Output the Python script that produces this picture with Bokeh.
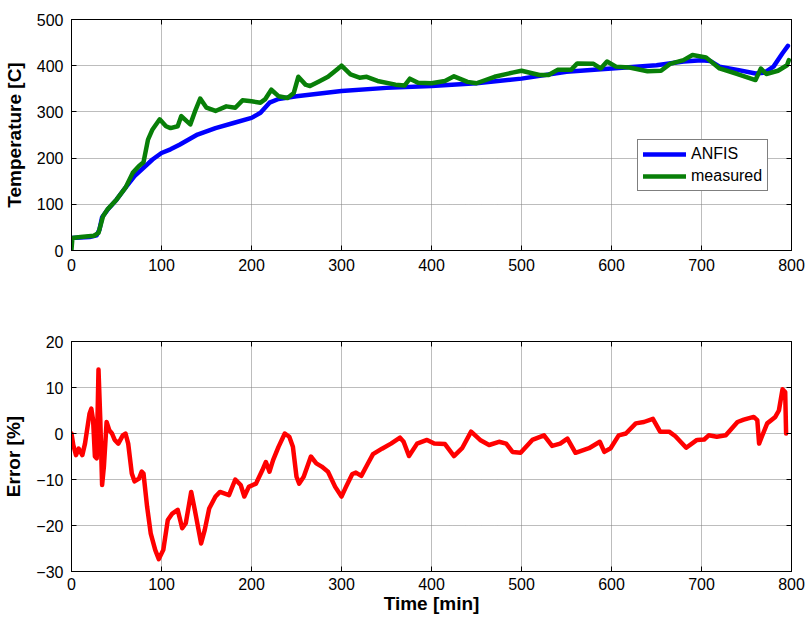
from bokeh.plotting import figure
from bokeh.layouts import column
from bokeh.models import (Range1d, LinearAxis, SingleIntervalTicker, Legend, LegendItem,
                          CustomJSTickFormatter)
from bokeh.embed import file_html
from bokeh.resources import INLINE

# ---------------- data ----------------
t_anfis = [0, 10, 20, 28, 31, 34, 40, 50, 60, 70, 80, 90, 100, 110, 120, 140, 160, 180,
           200, 210, 220, 230, 250, 300, 350, 400, 450, 500, 550, 600, 650, 680, 700,
           710, 720, 740, 760, 770, 780, 790, 796]
anfis = [27, 28, 29, 33, 45, 72, 88, 110, 136, 161, 179, 197, 211, 219, 229, 251, 265, 276,
         287, 298, 320, 328, 334, 345, 352, 356, 362, 372, 387, 394, 401, 409, 412,
         410, 398, 391, 383, 385, 398, 427, 443]

t_meas = [0, 1, 10, 25, 30, 35, 40, 50, 60, 68, 75, 80, 85, 90, 98, 105, 110, 118, 122,
          128, 132, 138, 143, 150, 160, 172, 182, 190, 200, 210, 215, 222, 230, 240, 247,
          252, 260, 265, 275, 285, 295, 300, 310, 320, 328, 340, 360, 370, 376, 385, 400,
          415, 425, 440, 450, 470, 490, 500, 520, 530, 540, 555, 562, 580, 588, 595, 605,
          620, 640, 655, 665, 680, 690, 705, 720, 740, 760, 766, 772, 785, 795, 797]
measured = [2, 27, 29, 32, 38, 74, 89, 110, 136, 168, 183, 191, 240, 262, 284, 269, 265, 269, 291,
            280, 273, 305, 329, 309, 302, 312, 309, 325, 323, 320, 327, 348, 334, 330, 341,
            376, 359, 356, 366, 376, 392, 400, 381, 374, 376, 367, 359, 357, 372, 363, 362,
            367, 377, 365, 362, 376, 385, 389, 380, 380, 391, 391, 405, 404, 394, 409, 398,
            396, 388, 389, 404, 412, 423, 418, 394, 382, 369, 394, 382, 389, 401, 412]

t_err = [0, 2, 5, 8, 12, 15, 20, 22, 24, 26, 28, 30, 32, 34, 36, 39, 42, 45, 48, 52, 57, 60,
         63, 67, 70, 75, 78, 80, 84, 88, 93, 97, 102, 107, 112, 118, 123, 127, 133, 137,
         144, 148, 153, 160, 165, 175, 182, 188, 192, 197, 205, 212, 216, 220, 224, 230,
         237, 242, 246, 250, 253, 258, 266, 272, 278, 285, 293, 300, 305, 312, 316, 322,
         328, 335, 345, 355, 365, 369, 375, 384, 395, 403, 415, 425, 434, 444, 454, 464,
         475, 483, 490, 499, 512, 525, 534, 543, 551, 560, 575, 587, 592, 599, 608, 616,
         627, 636, 646, 654, 664, 671, 683, 695, 703, 708, 717, 727, 740, 747, 758, 762,
         764, 767, 773, 782, 786, 790, 793, 794]
error = [0, -2.5, -4.7, -3.3, -4.7, -2.2, 4.3, 5.4, 2.9, -5, -5.4, 13.9, 2.9, -11.2, -7.2,
         2.5, 0.7, 0, -1.4, -2.2, -0.4, 0, -2.2, -8.7, -10.4, -9.8, -8.3, -8.7, -15.9, -21.7,
         -25.3, -27.3, -25.3, -18.8, -17.4, -16.6, -20.6, -19.5, -12.7, -16.6, -23.9, -21,
         -16.3, -13.7, -12.7, -13.4, -10, -11.2, -13.7, -11.6, -10.9, -8, -6.2, -8.3, -5.8,
         -2.9, 0, -0.7, -2.9, -9.4, -10.9, -9.4, -5, -6.5, -7.2, -8.3, -11.6, -13.7, -11.6,
         -8.8, -8.5, -9.2, -7, -4.5, -3.3, -2.2, -0.9, -1.8, -4.9, -2.2, -1.4, -2.2, -2.3,
         -4.9, -3.2, 0.4, -1.4, -2.5, -1.8, -2.2, -4, -4.2, -1.4, -0.4, -2.7, -2.2, -1.1,
         -4.2, -3.2, -1.8, -4, -3.2, -0.4, 0, 2.2, 2.5, 3.2, 0.4, 0.4, -0.6, -3.1, -1.4,
         -1.3, -0.4, -0.7, -0.4, 2.5, 3, 3.6, 2.9, -2.2, -0.7, 2.2, 3.6, 5, 9.6, 9, 0]

FONT = "Liberation Sans"
TICK_SIZE = "16px"
LABEL_SIZE = "19px"


def style(p, xlabel, ylabel, ytick_interval, xstandoff, xlabelstandoff):
    p.xaxis.ticker = SingleIntervalTicker(interval=100)
    p.yaxis.ticker = SingleIntervalTicker(interval=ytick_interval)
    for ax in (p.xaxis[0], p.yaxis[0]):
        ax.major_label_text_font = FONT
        ax.major_label_text_font_size = TICK_SIZE
        ax.major_label_text_color = "black"
        ax.axis_label_text_font = FONT
        ax.axis_label_text_font_size = LABEL_SIZE
        ax.axis_label_text_font_style = "bold"
        ax.axis_label_text_color = "black"
        ax.major_tick_in = 5
        ax.major_tick_out = 0
        ax.minor_tick_line_color = None
        ax.axis_line_color = "black"
        ax.major_tick_line_color = "black"
    p.yaxis.major_label_standoff = 4
    p.xaxis.major_label_standoff = xstandoff
    p.yaxis.axis_label_standoff = 9
    p.xaxis.axis_label_standoff = xlabelstandoff
    if xlabel:
        p.xaxis.axis_label = xlabel
    p.yaxis.axis_label = ylabel
    # mirrored ticks on top and right (no labels)
    blank = "return ''"
    top = LinearAxis(ticker=SingleIntervalTicker(interval=100),
                     formatter=CustomJSTickFormatter(code=blank),
                     major_tick_in=5, major_tick_out=0, minor_tick_line_color=None,
                     axis_line_color="black", major_label_standoff=0)
    right = LinearAxis(ticker=SingleIntervalTicker(interval=ytick_interval),
                       formatter=CustomJSTickFormatter(code=blank),
                       major_tick_in=5, major_tick_out=0,
                       minor_tick_line_color=None, axis_line_color="black",
                       major_label_standoff=0)
    p.add_layout(top, "above")
    p.add_layout(right, "right")
    p.grid.grid_line_color = "#7a7a7a"
    p.grid.grid_line_dash = "1 1"
    p.grid.grid_line_width = 1
    p.outline_line_color = "black"
    p.outline_line_width = 1
    p.background_fill_color = "white"
    p.border_fill_color = "white"


p1 = figure(frame_width=720, frame_height=231, output_backend="svg", toolbar_location=None,
            x_range=Range1d(0, 800), y_range=Range1d(0, 500),
            min_border_left=63, min_border_right=14, min_border_top=19, min_border_bottom=40)
style(p1, None, "Temperature [C]", 100, 4, 0)

r_anfis = p1.line(t_anfis, anfis, line_color="#0000ff", line_width=4.5,
                  line_join="round", line_cap="round")
r_meas = p1.line(t_meas, measured, line_color="#087f08", line_width=4.5,
                 line_join="round", line_cap="round")

legend = Legend(items=[LegendItem(label="ANFIS", renderers=[r_anfis]),
                       LegendItem(label="measured", renderers=[r_meas])],
                location=(566, 59))
legend.label_text_font = FONT
legend.label_text_font_size = "16px"
legend.label_text_color = "black"
legend.glyph_width = 43
legend.glyph_height = 18
legend.label_height = 18
legend.label_standoff = 5
legend.spacing = 4
legend.padding = 5
legend.margin = 0
legend.border_line_color = "black"
legend.border_line_width = 1
legend.background_fill_color = "white"
legend.background_fill_alpha = 1
p1.add_layout(legend)

p2 = figure(frame_width=720, frame_height=230, output_backend="svg", toolbar_location=None,
            x_range=Range1d(0, 800), y_range=Range1d(-30, 20),
            min_border_left=63, min_border_right=14, min_border_top=51, min_border_bottom=42)
style(p2, "Time [min]", "Error [%]", 10, 2, 0)
p2.line(t_err, error, line_color="#ff0000", line_width=4.5, line_join="round", line_cap="round")

layout = column(p1, p2)
open("out.html", "w").write(file_html(layout, INLINE))
